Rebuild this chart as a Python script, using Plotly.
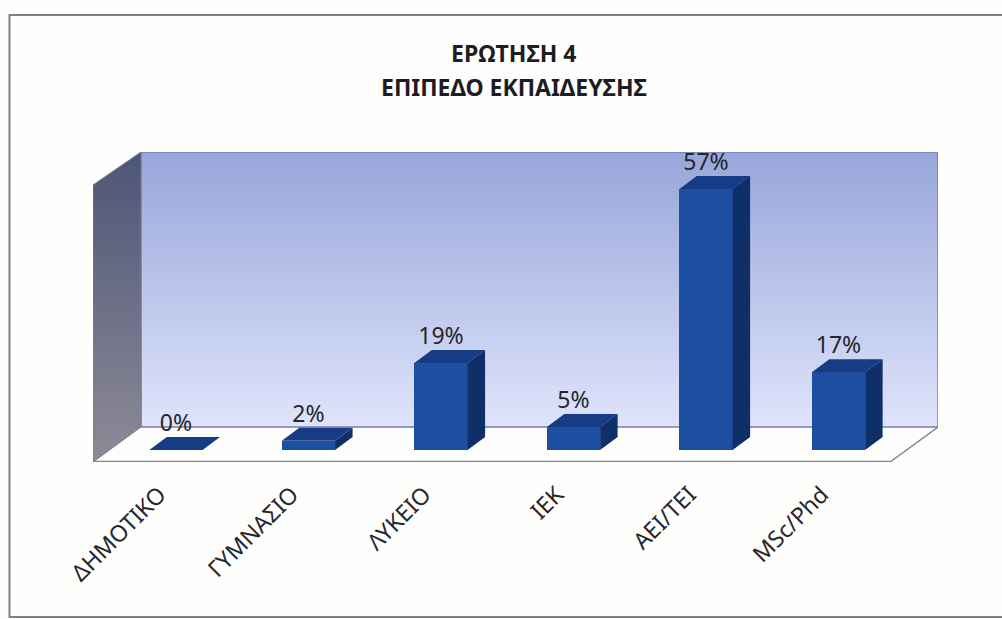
import plotly.graph_objects as go

categories = ["ΔΗΜΟΤΙΚΟ", "ΓΥΜΝΑΣΙΟ", "ΛΥΚΕΙΟ", "ΙΕΚ", "ΑΕΙ/ΤΕΙ", "MSc/Phd"]
values = [0, 2, 19, 5, 57, 17]
title_lines = ["ΕΡΩΤΗΣΗ 4", "ΕΠΙΠΕΔΟ ΕΚΠΑΙΔΕΥΣΗΣ"]

W, H = 1002, 619
ML, MR, MT, MB = 93, 64, 152, 157
X_RANGE = [-0.626, 5.751]
Y_RANGE = [-2.62, 65.07]
BAR_W = 0.402
DX, DY = 0.132, 2.84          # depth of each bar
WALL_DX, FLOOR_Y = 0.362, 5.02
FRONT_TOP = 57.86
FLOOR_RIGHT = 5.389
TICK_SHIFT = 0.125
FONT = "Noto Sans"
TXT = "#26262c"


def px(x):
    return (x - ML) / (W - ML - MR)


def py(y):
    return (H - MB - y) / (H - MT - MB)


fig = go.Figure()
x0, x1 = X_RANGE
y0, y1 = Y_RANGE
xb = x0 + WALL_DX

# walls and floor, on the primary axes
fig.add_trace(go.Scatter(x=[xb, x1, x1, xb, xb], y=[FLOOR_Y, FLOOR_Y, y1, y1, FLOOR_Y],
                         mode="lines", line=dict(color="#7d7ba6", width=1.5), fill="toself",
                         fillgradient=dict(type="vertical",
                                           colorscale=[[0, "#dfe4fb"], [1, "#97a6da"]]),
                         hoverinfo="skip", showlegend=False, cliponaxis=False))
fig.add_trace(go.Scatter(x=[x0, xb, xb, x0, x0], y=[y0, FLOOR_Y, y1, FRONT_TOP, y0],
                         mode="lines", line=dict(color="#7a7a90", width=1), fill="toself",
                         fillgradient=dict(type="vertical",
                                           colorscale=[[0, "#8d8b96"], [1, "#4d5577"]]),
                         hoverinfo="skip", showlegend=False, cliponaxis=False))
fig.add_trace(go.Scatter(x=[x0, FLOOR_RIGHT], y=[y0, y0],
                         mode="lines", line=dict(color="#86849a", width=2.5),
                         hoverinfo="skip", showlegend=False, cliponaxis=False))
fig.add_trace(go.Scatter(x=[FLOOR_RIGHT, x1], y=[y0, FLOOR_Y],
                         mode="lines", line=dict(color="#86849a", width=1.5),
                         hoverinfo="skip", showlegend=False, cliponaxis=False))

# bars, on an overlaid pair of axes so they sit above the walls
xs = list(range(len(categories)))
fig.add_trace(go.Bar(x=xs, y=values, width=BAR_W, marker=dict(color="#1c4fa2", line=dict(width=0)),
                     xaxis="x2", yaxis="y2", hoverinfo="skip", showlegend=False))
for c, v in zip(xs, values):
    l, r = c - BAR_W / 2, c + BAR_W / 2
    fig.add_trace(go.Scatter(x=[l, l + DX, r + DX, r, l], y=[v, v + DY, v + DY, v, v],
                             mode="lines", line=dict(width=0), fill="toself", fillcolor="#153c84",
                             xaxis="x2", yaxis="y2", hoverinfo="skip", showlegend=False))
    if v > 0:
        fig.add_trace(go.Scatter(x=[r, r + DX, r + DX, r, r], y=[0, DY, v + DY, v, 0],
                                 mode="lines", line=dict(width=0), fill="toself", fillcolor="#0f2f68",
                                 xaxis="x2", yaxis="y2", hoverinfo="skip", showlegend=False))
fig.add_trace(go.Scatter(x=xs, y=[v + DY for v in values], mode="text",
                         text=[f"{v}%" for v in values], textposition="top center",
                         textfont=dict(family=FONT, size=23, color=TXT),
                         xaxis="x2", yaxis="y2", hoverinfo="skip", showlegend=False, cliponaxis=False))

annotations = [
    dict(text=t, x=px(514), y=py(yy), xref="paper", yref="paper", showarrow=False,
         xanchor="center", yanchor="middle",
         font=dict(family=FONT, size=23, color="#1c1c22", weight="bold"))
    for t, yy in zip(title_lines, [53, 87])
]

fig.update_layout(
    width=W, height=H, autosize=False,
    margin=dict(l=ML, r=MR, t=MT, b=MB, pad=0),
    paper_bgcolor="#fefefd", plot_bgcolor="rgba(0,0,0,0)",
    font=dict(family=FONT, color=TXT),
    showlegend=False, bargap=0,
    annotations=annotations,
    shapes=[dict(type="rect", xref="paper", yref="paper", x0=px(9.5), x1=px(1020),
                 y0=py(617), y1=py(15), line=dict(color="#7f7d8a", width=2), layer="below")],
    xaxis=dict(range=X_RANGE, tickmode="array", tickvals=[c - TICK_SHIFT for c in xs],
               ticktext=categories, tickangle=-45,
               showgrid=False, zeroline=False, showline=False, ticks="outside", ticklen=9,
               tickcolor="rgba(0,0,0,0)", tickfont=dict(family=FONT, size=23, color=TXT)),
    yaxis=dict(range=Y_RANGE, visible=False, showgrid=False, zeroline=False),
    xaxis2=dict(range=X_RANGE, overlaying="x", visible=False),
    yaxis2=dict(range=Y_RANGE, overlaying="y", visible=False),
)

fig.write_html("out.html", config={"displayModeBar": False},
               post_script="document.body.style.margin='0';document.body.style.overflow='hidden';")
